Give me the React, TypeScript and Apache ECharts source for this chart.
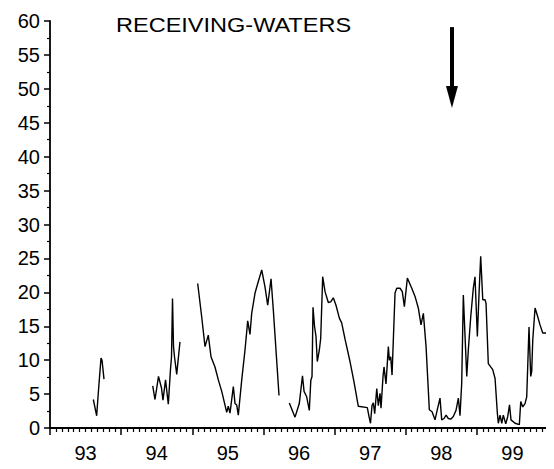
import React, { useEffect, useRef } from "react";
import * as echarts from "echarts";

// ---- data (year as decimal, value) ----
const seg93Years = [93.609, 93.656, 93.682, 93.717, 93.731, 93.759];
const seg93Values = [4.2, 1.8, 5.6, 10.3, 10.0, 7.2];

const seg94Years = [94.444, 94.476, 94.525, 94.567, 94.588, 94.624, 94.663, 94.694, 94.708, 94.722, 94.736, 94.75, 94.781, 94.827];
const seg94Values = [6.2, 4.2, 7.6, 5.9, 4.1, 7.1, 3.5, 8.7, 10.5, 19.1, 12.0, 10.5, 7.9, 12.7];

const seg95Years = [95.076, 95.132, 95.179, 95.225, 95.263, 95.319, 95.366, 95.414, 95.484, 95.506, 95.53, 95.577, 95.601, 95.624, 95.647, 95.695, 95.741, 95.779, 95.811, 95.835, 95.882, 95.928, 95.976, 96.022, 96.06, 96.107, 96.139, 96.219];
const seg95Values = [21.3, 16.4, 12.0, 13.7, 10.5, 9.0, 7.1, 5.4, 2.3, 3.2, 2.2, 6.1, 3.6, 3.4, 1.9, 7.1, 11.5, 15.8, 13.8, 16.9, 19.9, 21.6, 23.3, 20.8, 18.1, 22.0, 17.4, 4.8];

const seg96Years = [
  96.364, 96.444, 96.504, 96.549, 96.571, 96.608, 96.645, 96.666, 96.683, 96.697, 96.718, 96.739, 96.757, 96.786, 96.805, 96.833, 96.866, 96.912, 96.946, 96.982,
  97.02, 97.067, 97.1, 97.147, 97.217, 97.273, 97.334, 97.46, 97.488, 97.505, 97.526, 97.545, 97.564, 97.593, 97.615, 97.639, 97.653, 97.681, 97.695, 97.723,
  97.756, 97.77, 97.789, 97.808, 97.85, 97.874, 97.92, 97.952, 97.981, 98.023, 98.085, 98.131, 98.177, 98.215, 98.248, 98.286, 98.332, 98.37, 98.412, 98.444,
  98.482, 98.506, 98.539, 98.567, 98.599, 98.633, 98.669, 98.707, 98.74, 98.763, 98.787, 98.81, 98.834, 98.858, 98.88, 98.914, 98.95, 98.974, 99.007, 99.031,
  99.054, 99.083, 99.115, 99.129, 99.161, 99.195, 99.223, 99.256, 99.288, 99.302, 99.326, 99.35, 99.372, 99.406, 99.434, 99.459, 99.48, 99.537, 99.597, 99.617,
  99.645, 99.677, 99.701, 99.733, 99.757, 99.771, 99.786, 99.818, 99.856, 99.888, 99.926, 100.0,
];
const seg96Values = [
  3.7, 1.6, 3.6, 7.7, 5.4, 4.6, 2.6, 7.0, 7.6, 17.8, 15.0, 13.5, 9.8, 11.5, 13.2, 22.3, 20.1, 18.5, 18.6, 19.2,
  18.1, 16.2, 15.5, 13.1, 9.8, 6.8, 3.2, 3.0, 1.5, 0.7, 3.3, 3.7, 2.1, 5.8, 3.3, 5.1, 2.9, 7.6, 9.0, 6.5,
  12.0, 10.0, 10.5, 7.8, 19.9, 20.6, 20.6, 20.1, 17.9, 22.1, 20.6, 19.4, 17.7, 15.2, 16.9, 12.0, 2.7, 2.4, 1.2, 2.7,
  4.4, 1.2, 1.4, 1.9, 1.4, 1.3, 1.7, 2.6, 4.4, 1.8, 6.6, 19.6, 13.5, 7.6, 11.5, 16.4, 20.6, 22.3, 13.5, 19.9,
  25.3, 18.9, 18.9, 18.4, 9.5, 9.0, 8.6, 7.3, 2.2, 0.7, 1.9, 0.7, 1.9, 0.6, 1.7, 3.4, 1.2, 0.7, 0.5, 3.9,
  3.1, 3.6, 4.6, 14.9, 7.6, 8.3, 13.0, 17.7, 16.4, 15.2, 14.0, 14.0,
];

const xTickLabels = ["93", "94", "95", "96", "97", "98", "99"];
const xLabelPositions = [93.5, 94.5, 95.5, 96.5, 97.5, 98.5, 99.5];
const titleText = "RECEIVING-WATERS";
const arrowYear = 98.65;
const arrowTop = 59.1;
const arrowHead = 48.8;

const FONT = "'Liberation Sans', Arial, sans-serif";

function pairs(xs: number[], ys: number[]) {
  return xs.map((x, i) => [x, ys[i]]);
}

export default function App() {
  const ref = useRef<HTMLDivElement>(null);
  useEffect(() => {
    if (!ref.current) return;
    const chart = echarts.init(ref.current, undefined, { renderer: "svg" });
    const lineSeries = (data: number[][], extra: any = {}) => ({
      type: "line",
      data,
      showSymbol: false,
      symbol: "none",
      lineStyle: { color: "#000", width: 1.4 },
      xAxisIndex: 0,
      yAxisIndex: 0,
      silent: true,
      ...extra,
    });
    chart.setOption({
      animation: false,
      backgroundColor: "#fff",
      grid: { left: 50, right: 6, top: 21, bottom: 41, containLabel: false },
      xAxis: [
        {
          type: "value",
          min: 93,
          max: 100,
          interval: 1,
          position: "bottom",
          axisLine: { show: true, lineStyle: { color: "#000", width: 1.8 } },
          axisTick: { show: true, inside: false, length: 7, lineStyle: { color: "#000", width: 1.5 } },
          minorTick: { show: true, splitNumber: 12, length: 4, lineStyle: { color: "#000", width: 1.2 } },
          axisLabel: { show: false },
          splitLine: { show: false },
        },
        {
          type: "value",
          min: 93,
          max: 100,
          position: "bottom",
          axisLine: { show: false },
          axisTick: { show: false },
          splitLine: { show: false },
          axisLabel: {
            show: true,
            customValues: xLabelPositions,
            formatter: (v: number) => {
              const i = xLabelPositions.findIndex((p) => Math.abs(p - v) < 1e-6);
              return i >= 0 ? xTickLabels[i] : "";
            },
            color: "#000",
            fontFamily: FONT,
            fontSize: 20,
            margin: 15,
          },
        },
      ],
      yAxis: {
        type: "value",
        min: 0,
        max: 60,
        interval: 5,
        axisLine: { show: true, lineStyle: { color: "#000", width: 1.8 } },
        axisTick: { show: true, inside: false, length: 6, lineStyle: { color: "#000", width: 1.5 } },
        minorTick: { show: true, splitNumber: 2, length: 3, lineStyle: { color: "#000", width: 1.2 } },
        splitLine: { show: false },
        axisLabel: { color: "#000", fontFamily: FONT, fontSize: 20, margin: 10 },
      },
      graphic: [
        {
          type: "text",
          x: 116,
          y: 25,
          scaleX: 1.12,
          style: { text: titleText, fill: "#000", font: `21px ${FONT}`, verticalAlign: "middle", align: "left" },
        },
      ],
      series: [
        lineSeries(pairs(seg93Years, seg93Values)),
        lineSeries(pairs(seg94Years, seg94Values)),
        lineSeries(pairs(seg95Years, seg95Values)),
        lineSeries(pairs(seg96Years, seg96Values), {
          markLine: {
            silent: true,
            symbol: ["none", "triangle"],
            symbolSize: [12, 22],
            label: { show: false },
            lineStyle: { color: "#000", width: 4, type: "solid" },
            itemStyle: { color: "#000" },
            data: [[{ coord: [arrowYear, arrowTop] }, { coord: [arrowYear, arrowHead] }]],
          },
        }),
      ],
    });
    return () => chart.dispose();
  }, []);
  return <div ref={ref} style={{ width: 554, height: 469, margin: -8 }} />;
}
